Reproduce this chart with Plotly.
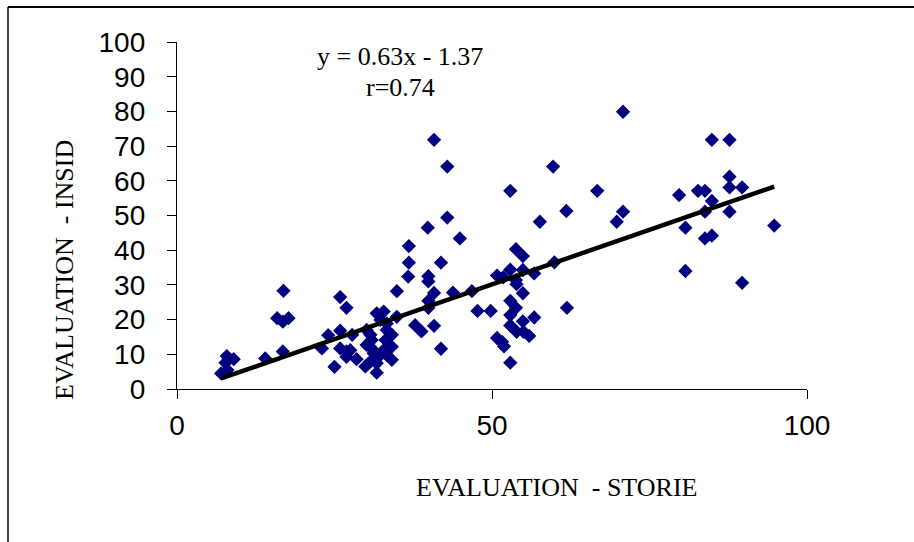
import plotly.graph_objects as go

# Data (EVALUATION - STORIE vs EVALUATION - INSID)
storie = [7, 8, 7.9, 9.0, 7.7, 14.0, 16.9, 15.9, 17.7, 16.8, 16.8, 23.0, 24.0, 25.0, 25.9, 26.9,
          25.9, 25.9, 26.9, 27.5, 26.9, 27.8, 28.5, 29.9, 30.7, 31.7, 30.1, 30.7, 30.9, 30.1,
          30.9, 31.2, 32.0, 31.7, 31.7, 32.8, 32.3, 33.3, 33.3, 34.1, 33.1, 34.1, 32.8, 33.3,
          34.1, 34.9, 34.9, 36.7, 36.8, 36.8, 37.8, 38.8, 39.8, 39.9, 39.9, 39.9, 39.9, 40.8,
          40.8, 40.8, 41.9, 41.9, 42.9, 42.9, 43.8, 44.9, 46.8, 47.7, 49.8, 50.8, 51.8, 50.8,
          51.6, 51.9, 52.9, 52.9, 52.9, 52.9, 52.9, 52.9, 53.8, 54.9, 53.8, 53.9, 53.8, 53.9,
          54.9, 54.9, 54.9, 55.0, 55.9, 56.7, 56.7, 57.6, 59.7, 59.9, 61.8, 61.9, 66.7, 69.8,
          70.8, 70.8, 79.7, 80.7, 80.7, 82.7, 83.8, 84.9, 83.8, 83.8, 84.9, 84.9, 87.7, 87.7,
          87.7, 87.7, 89.7, 89.7, 94.8]
insid = [4.5, 5.5, 9.5, 8.6, 7.6, 8.8, 28.3, 20.4, 20.4, 19.4, 10.8, 11.7, 15.5, 6.4, 26.5, 23.4,
         16.8, 11.7, 10.8, 11.2, 9.3, 15.6, 8.6, 6.5, 7.9, 4.7, 17.0, 15.6, 14.1, 12.7,
         11.7, 10.3, 9.3, 7.4, 21.8, 22.3, 19.9, 18.9, 17.0, 15.6, 14.1, 12.2, 11.2, 9.8,
         8.4, 20.8, 28.2, 32.4, 36.4, 41.2, 18.4, 16.6, 46.5, 32.5, 31.0, 25.4, 23.4, 71.8,
         27.7, 18.2, 36.4, 11.6, 64.1, 49.4, 27.8, 43.4, 28.2, 22.5, 22.5, 32.7, 32.2, 14.7,
         13.6, 12.3, 57.1, 34.4, 25.4, 21.3, 18.3, 7.6, 40.3, 38.3, 31.4, 30.2, 23.4, 16.5,
         34.3, 27.6, 19.5, 16.5, 15.3, 33.3, 20.6, 48.2, 64.1, 36.5, 51.3, 23.4, 57.1, 48.2,
         79.9, 51.1, 55.9, 46.5, 34.0, 57.1, 57.1, 54.2, 51.1, 43.4, 44.2, 71.8, 71.8, 61.2,
         58.1, 51.1, 58.1, 30.6, 47.1]

slope = 0.63
intercept = -1.37
r_value = 0.74

x_ticks = [0, 50, 100]
y_ticks = list(range(0, 101, 10))

fit_x = [min(storie), max(storie)]
fit_y = [slope * v + intercept for v in fit_x]

fig = go.Figure()
fig.add_trace(go.Scatter(
    x=storie, y=insid, mode="markers",
    marker=dict(symbol="diamond", size=11, color="#000080", line=dict(width=0)),
    showlegend=False, hoverinfo="x+y"))
fig.add_trace(go.Scatter(
    x=fit_x, y=fit_y, mode="lines",
    line=dict(color="black", width=4.5), showlegend=False))

axis_common = dict(showline=True, linecolor="black", linewidth=1.3, ticks="outside",
                   ticklen=9, tickcolor="black", tickwidth=1.3, showgrid=False,
                   zeroline=False, tickfont=dict(family="Liberation Sans, Arial", size=28, color="black"))

fig.update_xaxes(range=[0, 100], tickvals=x_ticks, ticklabelstandoff=2, **axis_common)
fig.update_yaxes(range=[0, 100], tickvals=y_ticks, ticklabelstandoff=16, **axis_common)

serif = "Liberation Serif, Times New Roman"
ann_font = dict(family=serif, size=26, color="black")


def px_x(p):
    return (p - 177) / 630


def px_y(p):
    return (389 - p) / 347


fig.update_layout(
    width=914, height=542,
    margin=dict(l=177, r=107, t=42, b=153),
    paper_bgcolor="white", plot_bgcolor="white",
    annotations=[
        dict(text=f"y = {slope}x - {abs(intercept)}", x=px_x(400), y=px_y(57),
             xanchor="center", yanchor="middle",
             xref="paper", yref="paper", showarrow=False, font=ann_font),
        dict(text=f"r={r_value}", x=px_x(400), y=px_y(87),
             xanchor="center", yanchor="middle",
             xref="paper", yref="paper", showarrow=False, font=ann_font),
        dict(text="EVALUATION&nbsp;&nbsp;- STORIE", x=px_x(556), y=px_y(487),
             xanchor="center", yanchor="middle",
             xref="paper", yref="paper", showarrow=False, font=ann_font),
        dict(text="EVALUATION&nbsp;&nbsp;- INSID", x=px_x(64), y=px_y(270),
             xanchor="center", yanchor="middle",
             xref="paper", yref="paper", showarrow=False, textangle=-90, font=ann_font),
    ],
    shapes=[
        dict(type="line", xref="paper", yref="paper", x0=px_x(8), x1=px_x(920),
             y0=px_y(7), y1=px_y(7), line=dict(color="black", width=2)),
        dict(type="line", xref="paper", yref="paper", x0=px_x(8), x1=px_x(8),
             y0=px_y(7), y1=px_y(560), line=dict(color="black", width=1.5)),
    ],
)

fig.write_html("out.html")
